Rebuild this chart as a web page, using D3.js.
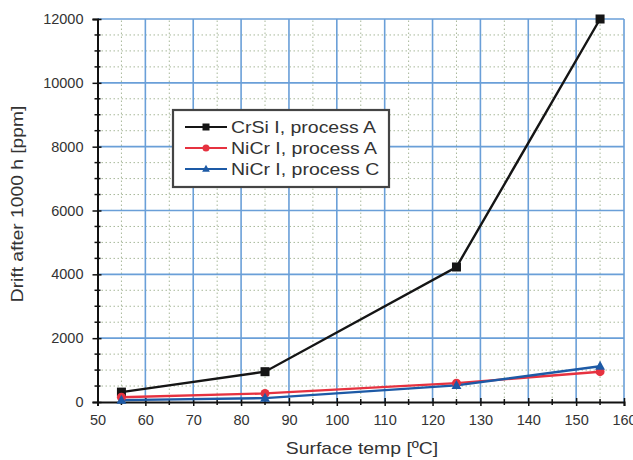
<!DOCTYPE html>
<html>
<head>
<meta charset="utf-8">
<script src="https://cdn.jsdelivr.net/npm/d3@7"></script>
<style>
  body { margin: 0; background: #fff; }
  text { font-family: "Liberation Sans", Arial, sans-serif; fill: #333; }
</style>
</head>
<body>
<svg id="chart" width="633" height="460"></svg>
<script>
// data
const temps = [55, 85, 125, 155]
const crsiA = [310, 950, 4230, 12000]
const nicrA = [150, 270, 590, 950]
const nicrC = [60, 120, 520, 1120]
const xTicks = [50, 60, 70, 80, 90, 100, 110, 120, 130, 140, 150, 160]
const yTicks = [0, 2000, 4000, 6000, 8000, 10000, 12000]

const series = [
  { name: 'CrSi I, process A', values: crsiA, color: '#151515', marker: 'square' },
  { name: 'NiCr I, process A', values: nicrA, color: '#e63240', marker: 'circle' },
  { name: 'NiCr I, process C', values: nicrC, color: '#1d5aa6', marker: 'triangle' }
]

const M = { top: 19, left: 97.5, right: 9, bottom: 58 }
const W = 633, H = 460
const svg = d3.select('#chart')

const x = d3.scaleLinear().domain([50, 160]).range([M.left, W - M.right])
const y = d3.scaleLinear().domain([0, 12000]).range([H - M.bottom, M.top])

// the reference type is a little wider than Liberation Sans
function stretch(sel, k) {
  sel.each(function() {
    const len = this.getComputedTextLength()
    d3.select(this).attr('textLength', len * k).attr('lengthAdjust', 'spacingAndGlyphs')
  })
}

// minor grid
const g = svg.append('g')
const minorX = d3.range(55, 160, 10)
const minorY = d3.range(500, 12000, 500).filter(d => d % 2000)
g.selectAll('line.mx').data(minorX).join('line')
  .attr('x1', d => x(d)).attr('x2', d => x(d)).attr('y1', y(0)).attr('y2', y(12000))
  .attr('stroke', '#a8b89a').attr('stroke-width', 1).attr('stroke-dasharray', '1.5,2.5')
g.selectAll('line.my').data(minorY).join('line')
  .attr('x1', x(50)).attr('x2', x(160)).attr('y1', d => y(d)).attr('y2', d => y(d))
  .attr('stroke', '#a8b89a').attr('stroke-width', 1).attr('stroke-dasharray', '1.5,2.5')

// major grid
g.selectAll('line.Mx').data(xTicks.slice(1)).join('line')
  .attr('x1', d => x(d)).attr('x2', d => x(d)).attr('y1', y(0)).attr('y2', y(12000))
  .attr('stroke', '#6a9fd8').attr('stroke-width', 1.6)
g.selectAll('line.My').data(yTicks.slice(1)).join('line')
  .attr('x1', x(50)).attr('x2', x(160)).attr('y1', d => y(d)).attr('y2', d => y(d))
  .attr('stroke', '#6a9fd8').attr('stroke-width', 1.6)

// axes
const xAxis = d3.axisBottom(x).tickValues(xTicks).tickSize(4).tickPadding(9).tickFormat(d3.format('d'))
const yAxis = d3.axisLeft(y).tickValues(yTicks).tickSize(5).tickPadding(9).tickFormat(d3.format('d'))

const xg = svg.append('g').attr('transform', `translate(0,${y(0)})`).call(xAxis)
const yg = svg.append('g').attr('transform', `translate(${x(50)},0)`).call(yAxis)
;[xg, yg].forEach(a => {
  a.select('.domain').attr('stroke', '#111').attr('stroke-width', 2)
  a.selectAll('.tick line').attr('stroke', '#111').attr('stroke-width', 1.5)
  a.selectAll('.tick text').attr('font-size', 14.5).attr('fill', '#333')
    .attr('font-family', '"Liberation Sans", Arial, sans-serif')
})
// ticks crossing the axis, plus minor ticks
xg.selectAll('.tick line').attr('y1', -4)
yg.selectAll('.tick line').attr('x1', 4)
xg.selectAll('line.minor').data(minorX).join('line')
  .attr('x1', d => x(d)).attr('x2', d => x(d)).attr('y1', -3).attr('y2', 3)
  .attr('stroke', '#111').attr('stroke-width', 1.5)
yg.selectAll('line.minor').data(minorY).join('line')
  .attr('y1', d => y(d)).attr('y2', d => y(d)).attr('x1', -3).attr('x2', 3)
  .attr('stroke', '#111').attr('stroke-width', 1.5)

// axis titles
svg.append('text').attr('x', 362).attr('y', 454).attr('text-anchor', 'middle')
  .attr('font-size', 17).text('Surface temp [ºC]').call(stretch, 1.14)
svg.append('text').attr('transform', 'translate(23,204) rotate(-90)').attr('text-anchor', 'middle')
  .attr('font-size', 17).text('Drift after 1000 h [ppm]').call(stretch, 1.13)

// lines
const line = d3.line().x((d, i) => x(temps[i])).y(d => y(d))
const plot = svg.append('g')
series.forEach(s => {
  plot.append('path').datum(s.values).attr('d', line)
    .attr('fill', 'none').attr('stroke', s.color).attr('stroke-width', 2.4)
})

function marker(sel, type, color, size) {
  if (type === 'square') {
    sel.append('rect').attr('x', -size).attr('y', -size).attr('width', size * 2).attr('height', size * 2).attr('fill', color)
  } else if (type === 'circle') {
    sel.append('circle').attr('r', size).attr('fill', color)
  } else {
    sel.append('path').attr('d', `M0,${-size * 1.2}L${size * 1.1},${size * 0.8}L${-size * 1.1},${size * 0.8}Z`).attr('fill', color)
  }
}

series.forEach(s => {
  s.values.forEach((v, i) => {
    const m = plot.append('g').attr('transform', `translate(${x(temps[i])},${y(v)})`)
    marker(m, s.marker, s.color, 4.5)
  })
})

// legend
const lg = svg.append('g').attr('transform', 'translate(173,110)')
lg.append('rect').attr('width', 216).attr('height', 77)
  .attr('fill', '#fff').attr('stroke', '#444').attr('stroke-width', 2.2)
series.forEach((s, i) => {
  const row = lg.append('g').attr('transform', `translate(0,${17 + i * 21})`)
  row.append('line').attr('x1', 12).attr('x2', 54).attr('stroke', s.color).attr('stroke-width', 2)
  const m = row.append('g').attr('transform', 'translate(33,0)')
  marker(m, s.marker, s.color, 3.5)
  row.append('text').attr('x', 58).attr('dy', '0.36em').attr('font-size', 16.5).text(s.name)
    .call(stretch, 1.18)
})
</script>
</body>
</html>
